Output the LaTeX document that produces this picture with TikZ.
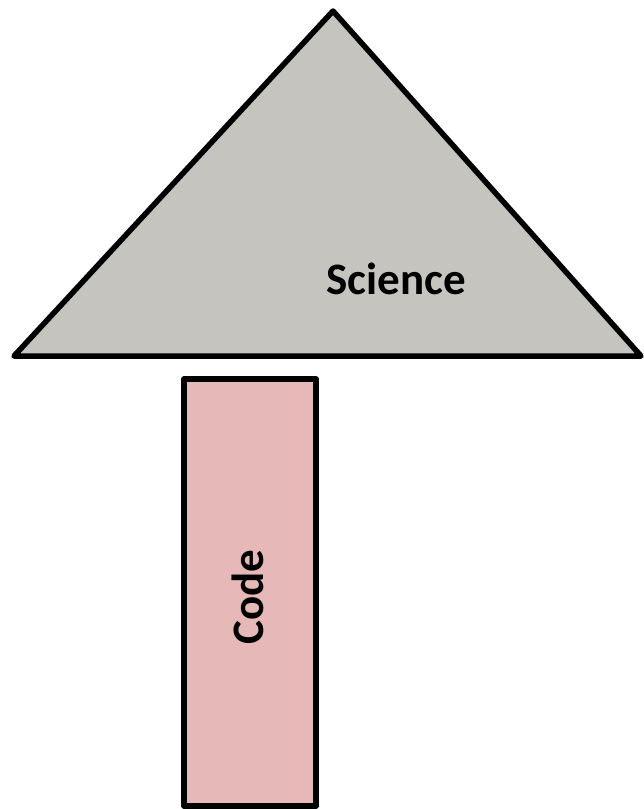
\documentclass[tikz,border=0pt]{standalone}
\usepackage{fontspec}
\setmainfont{Carlito}
\definecolor{sciencegray}{HTML}{C5C4BF}
\definecolor{codepink}{HTML}{E6B8B7}
\tikzset{
  shapeline/.style={draw=black, line width=5.5pt, line join=round},
  lbl/.style={font=\bfseries\fontsize{45}{49}\selectfont, text=black, inner sep=0pt}
}
\begin{document}
\begin{tikzpicture}[x=1pt,y=-1pt]
\useasboundingbox (0,0) rectangle (644,809);
\coordinate (apex) at (333,11);
\coordinate (bl) at (14,356);
\coordinate (br) at (641,356);
\draw[shapeline, fill=sciencegray] (apex) -- (br) -- (bl) -- cycle;
\node[lbl] (science) at (396,279) {Science};
\draw[shapeline, fill=codepink] (184,379) rectangle (316,806);
\node[lbl, rotate=90] (code) at (248,597) {Code};
\end{tikzpicture}
\end{document}
